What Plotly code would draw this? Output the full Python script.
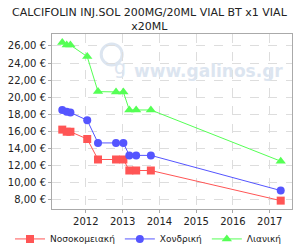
import plotly.graph_objects as go

dates = ["2011-05-12", "2011-06-25", "2011-08-01", "2012-01-15", "2012-05-01",
         "2012-10-27", "2013-01-08", "2013-03-08", "2013-05-15", "2013-10-08", "2017-04-20"]
hospital = [16.2, 15.95, 15.95, 15.1, 12.7, 12.7, 12.7, 11.41, 11.41, 11.41, 7.88]
wholesale = [18.5, 18.3, 18.2, 17.3, 14.64, 14.64, 14.64, 13.18, 13.18, 13.18, 9.06]
retail = [26.4, 26.1, 26.1, 24.75, 20.65, 20.6, 20.6, 18.5, 18.5, 18.5, 12.5]

names = ["Νοσοκομειακή", "Χονδρική", "Λιανική"]
yticks = [8, 10, 12, 14, 16, 18, 20, 22, 24, 26]
yticklabels = ["%d,00 €" % v for v in yticks]
xticks = ["2012-01-01", "2013-01-01", "2014-01-01", "2015-01-01", "2016-01-01", "2017-01-01"]
xticklabels = ["2012", "2013", "2014", "2015", "2016", "2017"]

fig = go.Figure()
styles = [("#FF5555", "square", 8), ("#5555FF", "circle", 8), ("#55FF55", "triangle-up", 9)]
for name, vals, (col, sym, sz) in zip(names, [hospital, wholesale, retail], styles):
    fig.add_trace(go.Scatter(x=dates, y=vals, name=name, mode="lines+markers",
                             line=dict(color=col, width=1),
                             marker=dict(color=col, symbol=sym, size=sz)))

wm = "#dce5f0"
# watermark
fig.add_shape(type="circle", xref="paper", yref="paper", x0=0.205, x1=0.2925,
              y0=0.823, y1=0.943, line=dict(color=wm, width=3), layer="below")
fig.add_annotation(xref="paper", yref="paper", x=0.249, y=0.885, text="g",
                   showarrow=False, font=dict(family="DejaVu Sans", size=19, color=wm))
fig.add_annotation(xref="paper", yref="paper", x=0.333, y=0.857, xanchor="left",
                   text="<b>www.galinos.gr</b>", showarrow=False,
                   font=dict(family="DejaVu Sans", size=17, color=wm))

fig.add_annotation(xref="paper", yref="paper", x=0.408, y=1.17, xanchor="center", yanchor="top",
                   text="CALCIFOLIN INJ.SOL 200MG/20ML VIAL BT x1 VIAL<br>x20ML",
                   showarrow=False, font=dict(family="DejaVu Sans", size=11, color="#222"))

fig.update_layout(
    width=300, height=250,
    margin=dict(l=52, r=8, t=34, b=41, autoexpand=False),
    paper_bgcolor="white", plot_bgcolor="white",
    font=dict(family="DejaVu Sans", size=10, color="#222"),
    showlegend=True,
    legend=dict(orientation="h", x=-0.175, xanchor="left",
                y=-0.171, yanchor="middle",
                font=dict(size=9), itemwidth=30, tracegroupgap=0,
                bgcolor="rgba(0,0,0,0)"),
    xaxis=dict(type="date", range=["2011-01-30", "2017-08-10"], tickvals=xticks,
               ticktext=xticklabels, showgrid=True, gridcolor="#dddddd", griddash="dash",
               gridwidth=1, showline=True, linecolor="#aaaaaa", mirror=True, ticks="outside",
               ticklen=3, tickcolor="#aaaaaa", zeroline=False),
    yaxis=dict(range=[6.9, 27.4], tickvals=yticks, ticktext=yticklabels, showgrid=True,
               gridcolor="#dddddd", griddash="dash", gridwidth=1, showline=True,
               linecolor="#aaaaaa", mirror=True, ticks="outside", ticklen=3,
               tickcolor="#aaaaaa", zeroline=False),
)

fig.write_html("out.html")
